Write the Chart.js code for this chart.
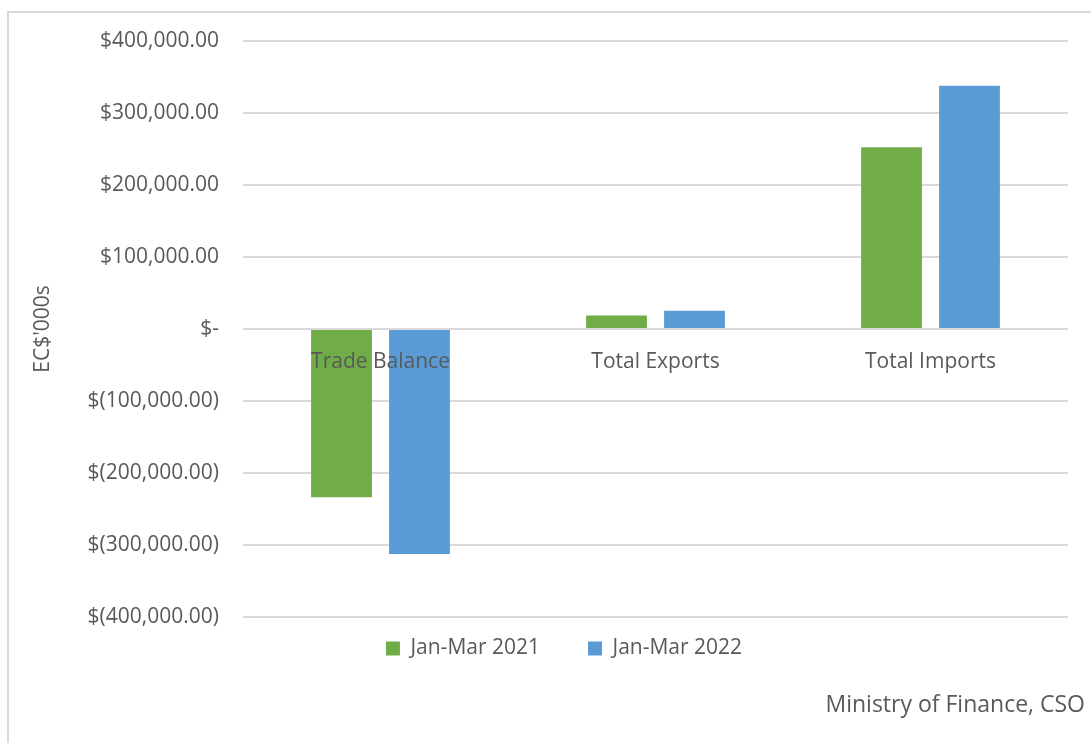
<!DOCTYPE html>
<html>
<head>
<meta charset="utf-8">
<script src="https://cdn.jsdelivr.net/npm/chart.js@4/dist/chart.umd.min.js"></script>
<style>
  html, body { margin: 0; padding: 0; background: #fff; }
  #frame { position: absolute; left: 7px; top: 11px; width: 1200px; height: 800px;
           border: 2px solid #d9d9d9; box-sizing: border-box; }
  #wrap { position: absolute; left: 0; top: 0; width: 1091px; height: 743px; }
</style>
</head>
<body>
<div id="frame"></div>
<div id="wrap"><canvas id="tradeChart"></canvas></div>
<script>
// ===== Data (EC$'000s) =====
const categories = ['Trade Balance', 'Total Exports', 'Total Imports'];
const jan_mar_2021 = [-233600, 18800, 252400];
const jan_mar_2022 = [-312400, 25300, 337700];
const seriesNames = ['Jan-Mar 2021', 'Jan-Mar 2022'];
const yTicks = [400000, 300000, 200000, 100000, 0, -100000, -200000, -300000, -400000];

const FONT = '"Open Sans", sans-serif';
const TEXT = '#595959';

// accounting style labels: $-, $100,000.00, $(100,000.00)
function money(v){
    if(v === 0) return '$-';
    const s = Math.abs(v).toLocaleString('en-US', {minimumFractionDigits: 2, maximumFractionDigits: 2});
    return v < 0 ? '$(' + s + ')' : '$' + s;
}

// source note in the lower right corner + nudge the legend under the plot
const sourceNote = {
    id: 'sourceNote',
    afterLayout(chart){
        const lg = chart.legend;
        lg.top -= 27; lg.bottom -= 27;
        lg.left += 30; lg.right += 30;
    },
    afterDraw(chart){
        const c = chart.ctx;
        c.save();
        c.font = '23px ' + FONT;
        c.fillStyle = TEXT;
        c.textAlign = 'right';
        c.textBaseline = 'middle';
        c.fillText('Ministry of Finance, CSO', 1085, 705);
        c.restore();
    }
};

const ctx = document.getElementById('tradeChart').getContext('2d');
const chart = new Chart(ctx, {
    type: 'bar',
    data: {
        labels: categories,
        datasets: [
            {label: seriesNames[0], data: jan_mar_2021, backgroundColor: '#70ad47'},
            {label: seriesNames[1], data: jan_mar_2022, backgroundColor: '#5b9bd5'}
        ]
    },
    options: {
        responsive: true,
        maintainAspectRatio: false,
        animation: false,
        layout: {padding: {left: 0, right: 23, top: 41, bottom: 47}},
        datasets: {bar: {categoryPercentage: 0.567, barPercentage: 0.78}},
        plugins: {
            legend: {
                position: 'bottom',
                labels: {
                    font: {family: FONT, size: 21},
                    color: TEXT,
                    boxWidth: 14,
                    boxHeight: 14,
                    padding: 48
                }
            },
            tooltip: {enabled: false}
        },
        scales: {
            x: {
                position: {y: 0},
                grid: {display: false},
                border: {display: false},
                ticks: {z: 1, font: {family: FONT, size: 21}, color: TEXT, padding: 12}
            },
            y: {
                min: -400000,
                max: 400000,
                afterBuildTicks: s => { s.ticks = yTicks.map(v => ({value: v})); },
                afterFit: s => { s.width = 243; },
                grid: {color: '#d9d9d9', lineWidth: 2, drawTicks: false},
                border: {display: false},
                ticks: {font: {family: FONT, size: 21}, color: TEXT, padding: 24, callback: v => money(v)},
                title: {display: true, text: "EC$'000s", font: {family: FONT, size: 21}, color: TEXT, padding: {top: 30, bottom: 0}}
            }
        }
    },
    plugins: [sourceNote]
});
</script>
</body>
</html>
